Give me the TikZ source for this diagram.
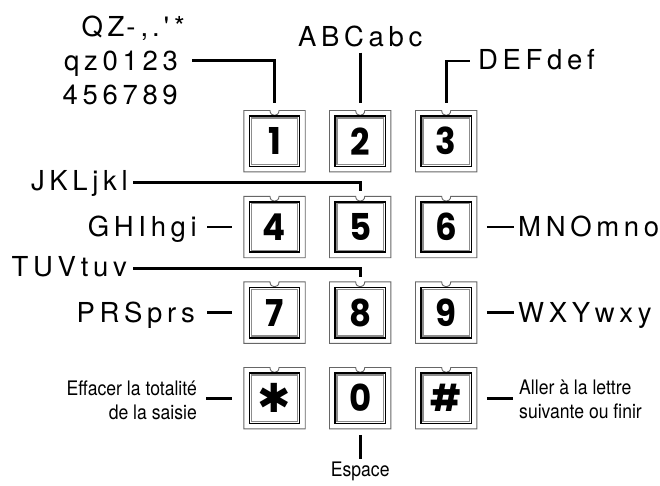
\documentclass[tikz,border=0pt]{standalone}
\usepackage{fontspec}
\setmainfont{TeX Gyre Heros}
\newfontfamily\bigfont{TeX Gyre Heros}[LetterSpace=17]
\newfontfamily\smallfont{TeX Gyre Heros}[FakeStretch=0.88]
\newfontfamily\keyfont{Poppins}[FakeStretch=0.92]
\newfontfamily\symfont{DejaVu Sans}
\newcommand\keystar{{\symfont\fontsize{40}{40}\selectfont ✱}}
\usetikzlibrary{calc}
\tikzset{
  keynode/.style={minimum width=61pt, minimum height=61pt, inner sep=0pt,
    font=\keyfont\bfseries\fontsize{37}{37}\selectfont},
  keyouter/.style={draw=black!60, line width=0.9pt},
  keyinner/.style={draw=black, line width=1.5pt},
  keyrim/.style={draw=black!45, line width=1.3pt},
  conn/.style={draw=black, line width=2.6pt},
  biglbl/.style={font=\bigfont\fontsize{27.5}{34}\selectfont, inner sep=0pt},
  smalllbl/.style={font=\smallfont\fontsize{20}{24}\selectfont, inner sep=0pt},
}
\newcommand\padkey[3]{%
  \node[keynode] (#1) at (#2) {#3};
  \draw[keyouter] (#1.north west) -- ([xshift=-4.5pt]#1.north)
    .. controls ([xshift=-4.5pt,yshift=-6.5pt]#1.north) and ([xshift=4.5pt,yshift=-6.5pt]#1.north) ..
    ([xshift=4.5pt]#1.north) -- (#1.north east) -- (#1.south east) -- (#1.south west) -- cycle;
  \draw[keyinner] ([shift={(5.5pt,-5.5pt)}]#1.north west) rectangle ([shift={(-5.5pt,5.5pt)}]#1.south east);
  \draw[keyrim] ([shift={(7.4pt,-7.4pt)}]#1.north west) rectangle ([shift={(-7.4pt,7.4pt)}]#1.south east);
}
\begin{document}
\begin{tikzpicture}[x=1pt,y=-1pt]
\useasboundingbox (0,0) rectangle (660,485);
% keys
\padkey{k1}{274.5,141.2}{1}
\padkey{k2}{360.2,141.2}{2}
\padkey{k3}{446.2,141.2}{3}
\padkey{k4}{274.5,227}{4}
\padkey{k5}{360.2,227}{5}
\padkey{k6}{446.2,227}{6}
\padkey{k7}{274.5,312.6}{7}
\padkey{k8}{360.2,312.6}{8}
\padkey{k9}{446.2,312.6}{9}
\padkey{kstar}{274.5,398.2}{\keystar}
\padkey{kzero}{360.2,398.2}{0}
\padkey{khash}{446.2,398.2}{\#}
% labels
\node[biglbl, align=right, anchor=east] (tQ) at (178,60.5)
  {QZ\kern2pt-\kern5pt,\kern4pt.\kern4pt\textquotesingle\kern5pt*\kern-7pt\\qz0123\\456789};
\node[biglbl, anchor=base] (tA) at (360.2,46.5) {ABCabc};
\node[biglbl, anchor=base west] (tD) at (478,69.3) {DEFdef};
\node[biglbl, anchor=base east] (tJ) at (128,190) {JKLjkl};
\node[biglbl, anchor=base east] (tG) at (197,236) {GHIhgi};
\node[biglbl, anchor=base west] (tM) at (518,236) {MNOmno};
\node[biglbl, anchor=base east] (tT) at (127,276) {TUVtuv};
\node[biglbl, anchor=base east] (tP) at (195,322.7) {PRSprs};
\node[biglbl, anchor=base west] (tW) at (518,322.7) {WXYwxy};
\node[smalllbl, align=right, anchor=east] (tE) at (197,400.5) {Effacer la totalité\\de la saisie};
\node[smalllbl, align=left, anchor=west] (tAl) at (519,399.2) {Aller à la lettre\\suivante ou finir};
\node[smalllbl, anchor=base] (tEs) at (360.2,476.7) {Espace};
% connectors
\draw[conn] ([xshift=14pt]tQ.east) -| ([yshift=8pt]k1.north);
\draw[conn] ([yshift=-6pt]tA.base) -- ([yshift=8pt]k2.north);
\draw[conn] ([yshift=8pt]k3.north) |- ([xshift=-8pt,yshift=8.3pt]tD.base west);
\draw[conn] ([xshift=5pt,yshift=7.3pt]tJ.base east) -| ([yshift=5pt]k5.north);
\draw[conn] ([xshift=-12pt]k4.west) -- ([xshift=10pt]tG.east |- k4.west);
\draw[conn] ([xshift=10pt]k6.east) -- ([xshift=-4pt]tM.west |- k6.east);
\draw[conn] ([xshift=6pt,yshift=7.7pt]tT.base east) -| ([yshift=4.5pt]k8.north);
\draw[conn] ([xshift=-12pt]k7.west) -- ([xshift=12pt]tP.east |- k7.west);
\draw[conn] ([xshift=10pt]k9.east) -- ([xshift=-4pt]tW.west |- k9.east);
\draw[conn] ([xshift=-12pt]kstar.west) -- ([xshift=9pt]tE.east |- kstar.west);
\draw[conn] ([xshift=10pt]khash.east) -- ([xshift=-6pt]tAl.west |- khash.east);
\draw[conn] ([yshift=-6pt]kzero.south) -- ([yshift=3pt]tEs.north);
\end{tikzpicture}
\end{document}
